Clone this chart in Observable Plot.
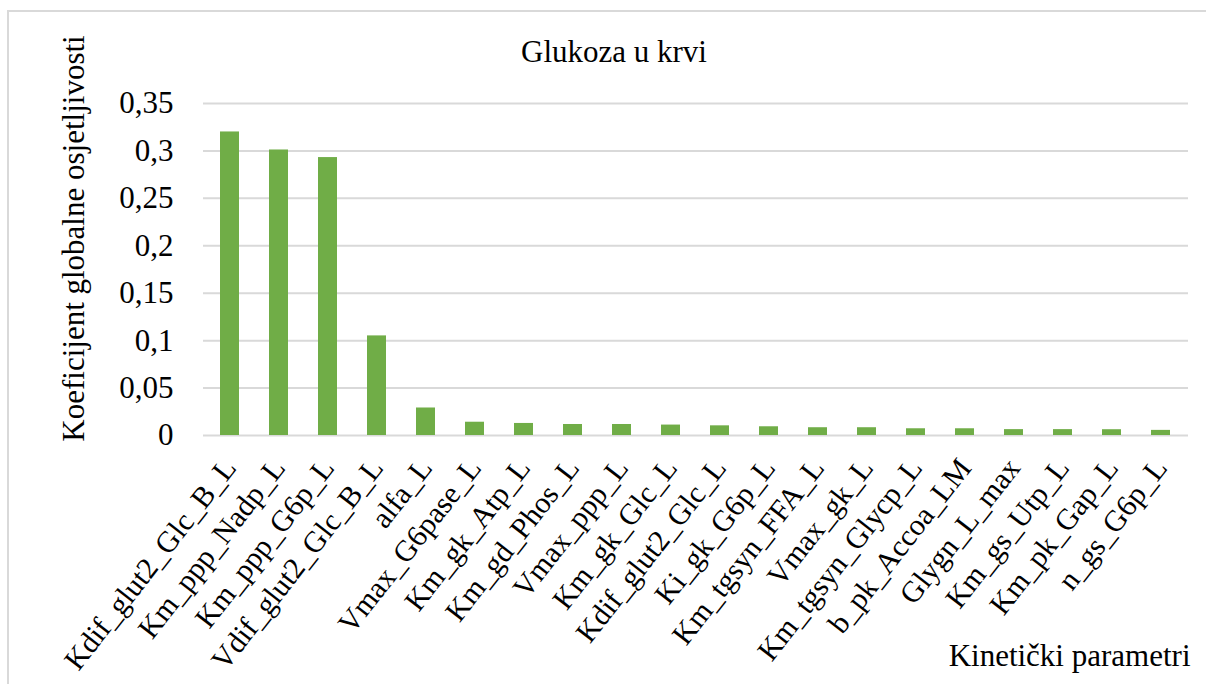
<!DOCTYPE html>
<html>
<head>
<meta charset="utf-8">
<script src="https://cdn.jsdelivr.net/npm/d3@7"></script>
<script src="https://cdn.jsdelivr.net/npm/@observablehq/plot@0.6"></script>
<style>
  html, body { margin: 0; padding: 0; background: #fff; }
  #wrap { position: relative; width: 1206px; height: 684px; overflow: hidden; }
  #frame { position: absolute; left: 7px; top: 10px; width: 1300px; height: 800px;
           border-top: 2px solid #d9d9d9; border-left: 2px solid #d9d9d9; }
  #chart { position: absolute; left: 0; top: 0; }
</style>
</head>
<body>
<div id="wrap"><div id="frame"></div><div id="chart"></div></div>
<script>
const parameters = [
  "Kdif_glut2_Glc_B_L", "Km_ppp_Nadp_L", "Km_ppp_G6p_L", "Vdif_glut2_Glc_B_L",
  "alfa_L", "Vmax_G6pase_L", "Km_gk_Atp_L", "Km_gd_Phos_L", "Vmax_ppp_L",
  "Km_gk_Glc_L", "Kdif_glut2_Glc_L", "Ki_gk_G6p_L", "Km_tgsyn_FFA_L",
  "Vmax_gk_L", "Km_tgsyn_Glycp_L", "b_pk_Accoa_LM", "Glygn_L_max",
  "Km_gs_Utp_L", "Km_pk_Gap_L", "n_gs_G6p_L"
];
const sensitivity = [
  0.320, 0.301, 0.293, 0.105, 0.029, 0.014, 0.0127, 0.0116, 0.0116, 0.011,
  0.0102, 0.0092, 0.0082, 0.0082, 0.0071, 0.0071, 0.0062, 0.0062, 0.0061, 0.0054
];
const yTicks = [0, 0.05, 0.1, 0.15, 0.2, 0.25, 0.3, 0.35];
const titleText = "Glukoza u krvi";
const yLabel = "Koeficijent globalne osjetljivosti";
const xLabel = "Kinetički parametri";

const data = parameters.map((p, i) => ({parameter: p, value: sensitivity[i]}));
const fmt = d => d === 0 ? "0" : String(+d.toFixed(2)).replace(".", ",");
const font = "'Liberation Serif', 'Times New Roman', serif";
const fs = 31;

const chart = Plot.plot({
  width: 1206,
  height: 684,
  marginTop: 103,
  marginLeft: 203,
  marginRight: 18,
  marginBottom: 249,
  style: {fontFamily: font, fontSize: fs + "px", color: "#000", background: "transparent", overflow: "visible"},
  x: {domain: parameters, paddingInner: 0.61, paddingOuter: 0.305, label: null},
  y: {domain: [0, 0.35], label: null},
  marks: [
    Plot.gridY(yTicks, {stroke: "#d9d9d9", strokeOpacity: 1, strokeWidth: 2}),
    Plot.barY(data, {x: "parameter", y: "value", fill: "#70ad47"}),
    Plot.axisY(yTicks, {tickSize: 0, tickPadding: 30, tickFormat: fmt, fontSize: fs, fill: "#000", label: null}),
    Plot.axisX({tickSize: 0, tickPadding: 27, tickRotate: -52, fontSize: 30, fill: "#000", label: null}),
    Plot.text([titleText], {frameAnchor: "top", text: d => d, textAnchor: "middle", dx: -82, dy: -42, lineAnchor: "bottom", fontSize: fs, fill: "#000"}),
    Plot.text([yLabel], {frameAnchor: "left", text: d => d, textAnchor: "middle", rotate: -90, dx: -120, dy: -31, lineAnchor: "bottom", fontSize: fs, fill: "#000", style: "word-spacing:6px"}),
    Plot.text([xLabel], {frameAnchor: "bottom-right", text: d => d, textAnchor: "end", dx: 2, dy: 230, lineAnchor: "bottom", fontSize: fs, fill: "#000", style: "word-spacing:4px"})
  ]
});
document.getElementById("chart").appendChild(chart);
</script>
</body>
</html>
